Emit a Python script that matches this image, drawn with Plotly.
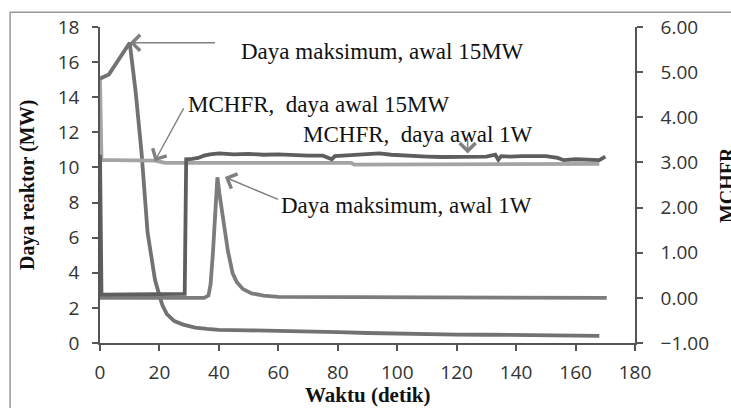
import plotly.graph_objects as go

# ---------------- data ----------------
# Power, initial 15 MW (left axis, MW)
t_p15 = [0, 0.5, 3, 10, 12, 14, 16, 17.5, 18.5, 20, 21, 22.5, 25, 28, 32, 36, 40, 50, 60, 70,
         80, 90, 100, 110, 120, 130, 140, 151, 152, 168]
p15 = [15.0, 15.1, 15.3, 17.1, 14.3, 10.8, 6.3, 4.6, 3.6, 2.7, 2.15, 1.65, 1.25, 1.05, 0.88, 0.8,
       0.75, 0.72, 0.7, 0.66, 0.62, 0.57, 0.53, 0.5, 0.48, 0.47, 0.46, 0.46, 0.41, 0.41]

# Power, initial 1 W (plotted on the right axis scale)
t_p1 = [0, 35, 36.5, 37.2, 38, 38.8, 39.5, 40.2, 41, 42, 43, 44.6, 46, 48, 51, 55, 60, 170.5]
p1 = [0.0, 0.0, 0.05, 0.3, 1.0, 2.0, 2.67, 2.3, 1.9, 1.4, 1.05, 0.55, 0.35, 0.2, 0.1, 0.05, 0.02, 0.0]

# MCHFR, initial 15 MW (right axis)
t_m15 = [0, 0.5, 5, 10, 15, 18.5, 20, 22, 30, 40, 50, 60, 70, 84.5, 85.5, 100, 120, 140, 160, 168]
m15 = [4.83, 3.05, 3.05, 3.05, 3.05, 3.04, 3.02, 2.99, 2.99, 2.99, 2.99, 2.99, 2.99, 2.99, 2.95,
       2.95, 2.95, 2.96, 2.97, 2.97]

# MCHFR, initial 1 W (right axis)
t_m1 = [0, 0.5, 28.5, 29, 31, 33, 35, 37, 40, 45, 50, 55, 60, 65, 70, 75, 78, 79, 81, 85, 90, 94,
        98, 102, 106, 110, 115, 120, 125, 130, 133, 134, 135, 138, 142, 146, 150, 154, 156, 160,
        165, 168, 170]
m1 = [3.17, 0.07, 0.09, 3.07, 3.08, 3.1, 3.15, 3.18, 3.2, 3.18, 3.19, 3.17, 3.18, 3.16, 3.15, 3.15,
      3.07, 3.14, 3.15, 3.16, 3.18, 3.2, 3.17, 3.15, 3.14, 3.13, 3.12, 3.13, 3.12, 3.13, 3.17, 3.06,
      3.14, 3.13, 3.14, 3.15, 3.14, 3.1, 3.05, 3.07, 3.07, 3.05, 3.13]

x_ticks = [0, 20, 40, 60, 80, 100, 120, 140, 160, 180]
y_ticks = [0, 2, 4, 6, 8, 10, 12, 14, 16, 18]
y2_ticks = [-1, 0, 1, 2, 3, 4, 5, 6]

# ---------------- figure ----------------
fig = go.Figure()
fig.add_trace(go.Scatter(x=t_m15, y=m15, yaxis="y2", mode="lines",
                         line=dict(color="#a4a4a4", width=3.8)))
fig.add_trace(go.Scatter(x=t_p1, y=p1, yaxis="y2", mode="lines",
                         line=dict(color="#7c7c7c", width=3.8)))
fig.add_trace(go.Scatter(x=t_m1, y=m1, yaxis="y2", mode="lines",
                         line=dict(color="#5e5e5e", width=3.8)))
fig.add_trace(go.Scatter(x=t_p15, y=p15, mode="lines",
                         line=dict(color="#727272", width=3.8)))

tickfont = dict(family="Open Sans", size=19, color="#333333")
axcol = "#555555"
fig.update_layout(
    width=731, height=408,
    margin=dict(l=100, r=96, t=27, b=65),
    paper_bgcolor="white", plot_bgcolor="white",
    showlegend=False,
    xaxis=dict(range=[0, 180], tickvals=x_ticks, showgrid=False, zeroline=False,
               showline=True, linecolor=axcol, linewidth=1.5, ticks="outside",
               ticklen=6, tickcolor=axcol, tickwidth=1.5, tickfont=tickfont,
               ticklabelstandoff=5),
    yaxis=dict(range=[0, 18], tickvals=y_ticks, showgrid=False, zeroline=False,
               showline=True, linecolor=axcol, linewidth=1.5, ticks="outside",
               ticklen=6, tickcolor=axcol, tickwidth=1.5, tickfont=tickfont,
               ticklabelstandoff=9),
    yaxis2=dict(range=[-1, 6], tickvals=y2_ticks, tickformat=".2f", overlaying="y",
                side="right", showgrid=False, zeroline=False, showline=True,
                linecolor=axcol, linewidth=1.5, ticks="outside", ticklen=6,
                tickcolor=axcol, tickwidth=1.5, tickfont=tickfont, ticklabelstandoff=14),
)

serif = "Liberation Serif"
ann_font = dict(family=serif, size=23, color="#111111")
arrow_col = "#808080"

def arrow(xh, yh, xt, yt):
    fig.add_annotation(x=xh, y=yh, ax=xt, ay=yt, xref="x", yref="y", axref="x", ayref="y",
                       text="", showarrow=True, arrowhead=4, arrowsize=2.2,
                       arrowwidth=1.4, arrowcolor=arrow_col)

arrow(10, 17.1, 39.2, 17.1)
arrow(18.4, 10.35, 28.4, 13.45)
arrow(123.7, 10.8, 123.7, 11.7)
arrow(42.0, 9.45, 60.4, 8.14)

def label(text, x, y):
    fig.add_annotation(x=x, y=y, xref="x", yref="y", text=text, showarrow=False,
                       font=ann_font, xanchor="center", yanchor="middle")

label("Daya maksimum, awal 15MW", 94.9, 16.6)
label("MCHFR,  daya awal 15MW", 73.6, 13.57)
label("MCHFR,  daya awal 1W", 106.9, 11.86)
label("Daya maksimum, awal 1W", 103.2, 7.86)

title_font = dict(family=serif, size=20, color="#111111")
fig.add_annotation(x=-0.1364, y=0.5, xref="paper", yref="paper", text="<b>Daya reaktor (MW)</b>",
                   textangle=-90, showarrow=False, font=title_font,
                   xanchor="center", yanchor="middle")
fig.add_annotation(x=1.172, y=0.5, xref="paper", yref="paper", text="<b>MCHFR</b>",
                   textangle=-90, showarrow=False, font=title_font,
                   xanchor="center", yanchor="middle")
fig.add_annotation(x=0.5, y=-0.166, xref="paper", yref="paper", text="<b>Waktu (detik)</b>",
                   showarrow=False, font=dict(family=serif, size=21, color="#111111"),
                   xanchor="center", yanchor="middle")

fig.add_shape(type="rect", xref="paper", yref="paper", x0=-0.168, y0=-0.4, x1=1.4, y1=1.047,
              line=dict(color="#999999", width=1.5), fillcolor="rgba(0,0,0,0)", layer="below")

fig.write_html("out.html")
